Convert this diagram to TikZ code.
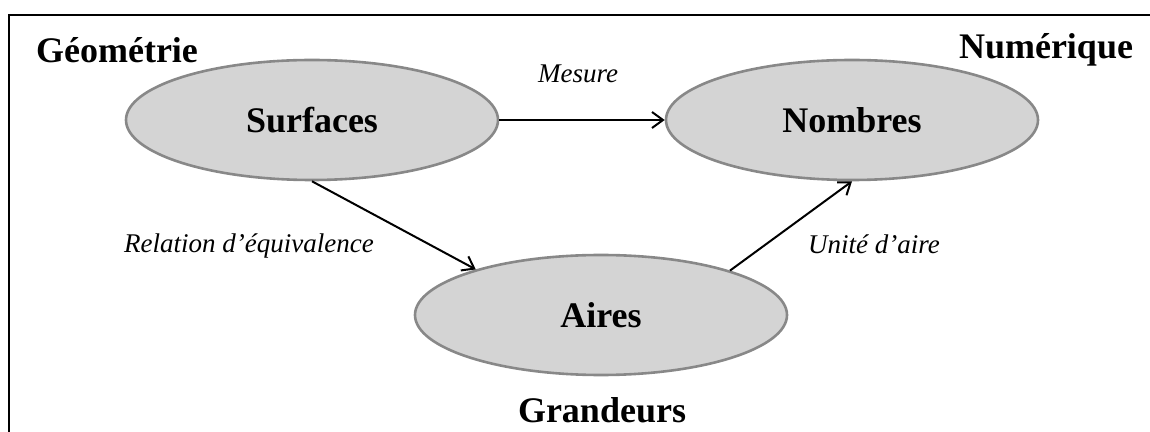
\documentclass[tikz,border=0pt]{standalone}
\usepackage{fontspec}
\setmainfont{Liberation Serif}
\usepackage{tikz}
\usetikzlibrary{arrows.meta, positioning, shapes.geometric}
\definecolor{ovalfill}{HTML}{D4D4D4}
\definecolor{ovaldraw}{HTML}{888888}

\begin{document}
\begin{tikzpicture}[x=0.5pt, y=-0.5pt,
    >={Straight Barb[length=5.5pt, width=8pt]},
    oval/.style={ellipse, draw=ovaldraw, fill=ovalfill, line width=1.3pt,
      minimum width=186pt, minimum height=60pt, inner sep=0pt,
      font=\fontsize{18}{21}\selectfont\bfseries},
    fieldtitle/.style={font=\fontsize{18}{21}\selectfont\bfseries},
    lbl/.style={font=\fontsize{13.5}{16}\selectfont\itshape},
    link/.style={->, line width=1pt}]
  \useasboundingbox (0,0) rectangle (1150,432);

  % Frame (left and top edges only)
  \draw[line width=1.4pt] (9,432) -- (9,15) -- (1150,15);

  % Domain titles
  \node[fieldtitle] (geom) at (117,50) {Géométrie};
  \node[fieldtitle] (num) at (1046,50) {Numérique};
  \node[fieldtitle] (grand) at (602,410) {Grandeurs};

  % Objects
  \node[oval] (surf) at (312,120) {Surfaces};
  \node[oval] (nomb) at (852,120) {Nombres};
  \node[oval] (aires) at (601,315) {Aires};

  % Maps between them
  \draw[link] (surf) -- (nomb);
  \node[lbl] (mesure) at (578,74) {Mesure};

  \draw[link] (surf.south) -- (aires.160);
  \node[lbl] (equiv) at (249,246) {Relation d’équivalence};

  \draw[link] (aires.19) -- (nomb.south);
  \node[lbl] (unite) at (874,244) {Unité d’aire};
\end{tikzpicture}
\end{document}
